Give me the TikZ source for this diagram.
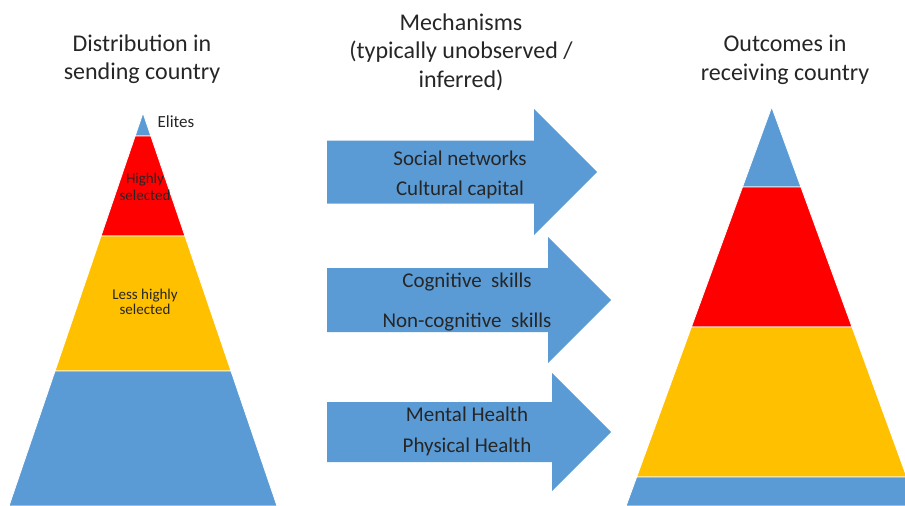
\documentclass[tikz,border=0pt]{standalone}
\usepackage{fontspec}
\setmainfont{Carlito}
\definecolor{pyblue}{HTML}{5B9BD5}
\definecolor{pyred}{HTML}{FF0000}
\definecolor{pyyellow}{HTML}{FFC000}
\definecolor{txt}{HTML}{262626}

\tikzset{
  heading/.style={align=center,text=txt,font=\fontsize{24}{28.5}\selectfont},
  mechtext/.style={text=txt,font=\fontsize{21}{25}\selectfont},
  layertext/.style={align=center,text=txt,font=\fontsize{15}{15}\selectfont}
}

\begin{document}
\begin{tikzpicture}[inner sep =0mm,x=1pt,y=-1pt]
  \useasboundingbox (0,0) rectangle (905,506);
  \clip (0,0) rectangle (905,506);

  % sending country
  \begin{scope}
    \xdef\apx{143}
    \xdef\apy{113}
    \xdef\slope{0.341}
    \foreach \ya/\yb/\col in {113/136/pyblue,136/236/pyred,236/371/pyyellow,371/506/pyblue} {
      \pgfmathsetmacro\wa{\slope*(\ya-\apy)}
      \pgfmathsetmacro\wb{\slope*(\yb-\apy)}
      \filldraw[fill=\col,draw=white,line width=0.8pt]
        (\apx-\wa,\ya) -- (\apx+\wa,\ya) -- (\apx+\wb,\yb) -- (\apx-\wb,\yb) -- cycle;
    }
  \end{scope}

  % receiving country
  \begin{scope}
    \xdef\apx{771.7}
    \xdef\apy{107}
    \xdef\slope{0.365}
    \foreach \ya/\yb/\col in {107/187/pyblue,187/327/pyred,327/477/pyyellow,477/506/pyblue} {
      \pgfmathsetmacro\wa{\slope*(\ya-\apy)}
      \pgfmathsetmacro\wb{\slope*(\yb-\apy)}
      \filldraw[fill=\col,draw=white,line width=0.8pt]
        (\apx-\wa,\ya) -- (\apx+\wa,\ya) -- (\apx+\wb,\yb) -- (\apx-\wb,\yb) -- cycle;
    }
  \end{scope}

  % mechanisms
  \foreach \yc/\hs/\hh/\hx/\tx in {172/31.5/63/534/597,300/32/63/548/611,432/30/59/552/611} {
    \fill[pyblue] (327,\yc-\hs) -- (\hx,\yc-\hs) -- (\hx,\yc-\hh) -- (\tx,\yc)
      -- (\hx,\yc+\hh) -- (\hx,\yc+\hs) -- (327,\yc+\hs) -- cycle;
  }

  \node[heading] (send) at (142,59) {Distribution in\\sending country};
  \node[heading] (mech) at (461,52) {Mechanisms\\(typically unobserved /\\inferred)};
  \node[heading] (recv) at (785,60) {Outcomes in\\receiving country};

  \node[layertext,font=\fontsize{17}{17}\selectfont] (elite) at (176,122) {Elites};
  \node[layertext,font=\fontsize{15}{17}\selectfont] (high) at (145,187) {Highly\\selected};
  \node[layertext] (less) at (145,302) {Less highly\\selected};

  \node[mechtext] (soc) at (460,158) {Social networks};
  \node[mechtext] (cult) at (460,190) {Cultural capital};
  \node[mechtext] (cog) at (467,282) {Cognitive\ \ skills};
  \node[mechtext] (noncog) at (467,322) {Non-cognitive\ \ skills};
  \node[mechtext] (ment) at (467,414) {Mental\ Health};
  \node[mechtext] (phys) at (467,447) {Physical Health};
\end{tikzpicture}
\end{document}
